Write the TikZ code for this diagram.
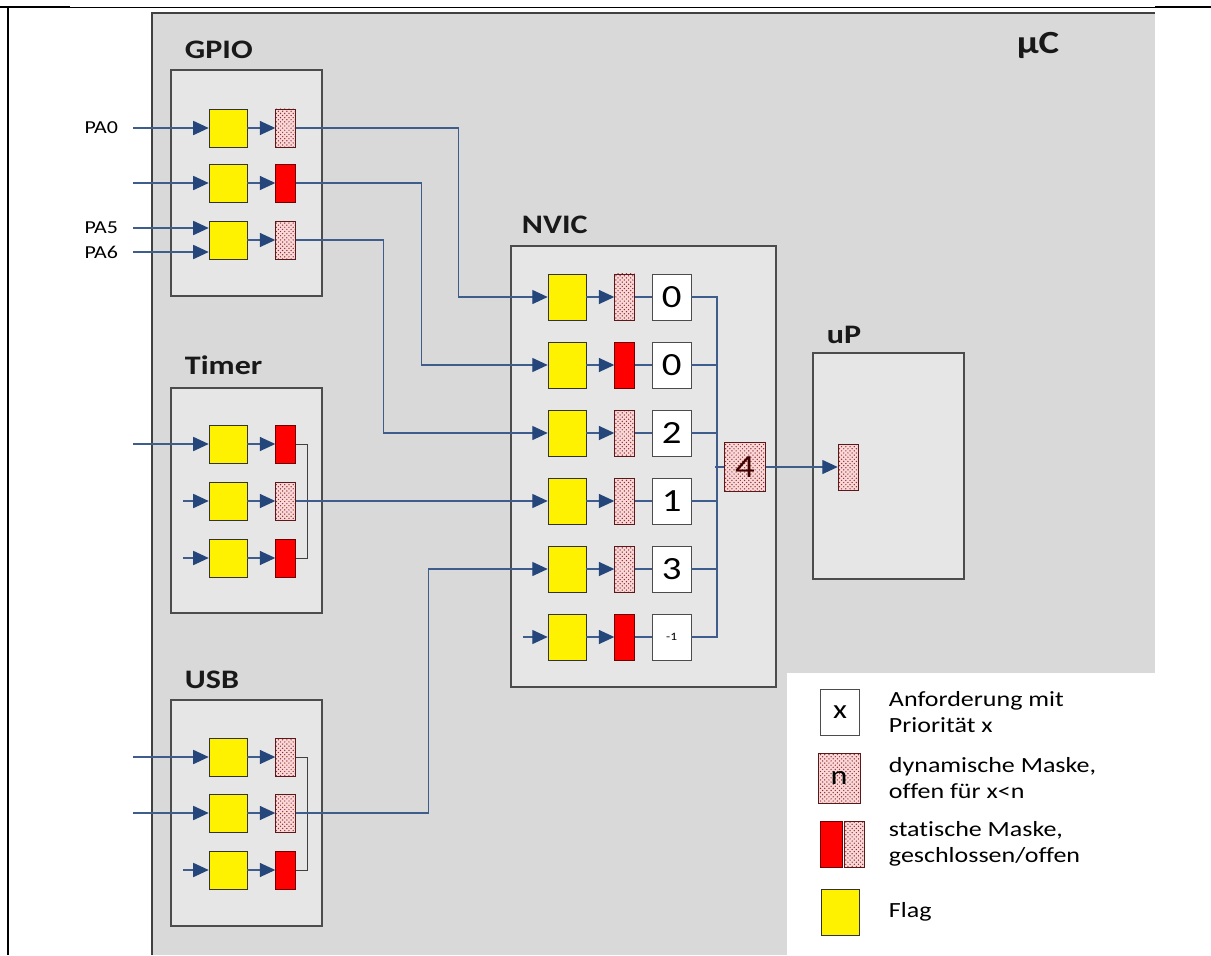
\documentclass[tikz,border=0pt]{standalone}
\usepackage{fontspec}
\setmainfont{Carlito}[FakeStretch=1.2, Ligatures=NoCommon]
\usetikzlibrary{arrows.meta, positioning, patterns}
\definecolor{linie}{RGB}{62,92,140}
\definecolor{pfeil}{RGB}{36,70,122}
\definecolor{ucgrau}{RGB}{217,217,217}
\definecolor{blockgrau}{RGB}{230,230,230}
\definecolor{maske}{RGB}{248,216,216}
\definecolor{punkte}{RGB}{150,40,40}

\begin{document}
\begin{tikzpicture}[x=0.025cm, y=-0.025cm, node distance=0.7cm,
    flag/.style={rectangle, draw=black!80, fill=yellow, minimum width=0.95cm,
      minimum height=0.95cm, inner sep=0pt},
    nflag/.style={flag, minimum height=1.15cm},
    dynm/.style={rectangle, draw=punkte!60!black, preaction={fill=maske},
      pattern=crosshatch dots, pattern color=punkte, minimum width=0.5cm,
      minimum height=0.95cm, inner sep=0pt},
    statm/.style={rectangle, draw=red!45!black, fill=red, minimum width=0.5cm,
      minimum height=0.95cm, inner sep=0pt},
    ndyn/.style={dynm, minimum height=1.15cm},
    nstat/.style={statm, minimum height=1.15cm},
    prio/.style={rectangle, draw=black!70, fill=white, minimum width=0.975cm,
      minimum height=1.15cm, inner sep=0pt, font=\fontsize{23}{25}\selectfont},
    block/.style={rectangle, draw=black!70, line width=1pt, fill=blockgrau,
      inner sep=0pt},
    titel/.style={font=\fontsize{19}{22}\selectfont\bfseries, anchor=west,
      text=black!90},
    pin/.style={font=\fontsize{13}{15}\selectfont, anchor=east},
    leg/.style={font=\fontsize{15.4}{18.5}\selectfont, anchor=west, align=left},
    flecha/.style={-{Triangle[length=11pt, width=10pt, color=pfeil]}, draw=linie,
      line width=0.9pt},
    leitung/.style={draw=linie, line width=0.9pt},
    band/.style={draw=black!75, line width=0.7pt}
  ]
  \useasboundingbox (0,0) rectangle (1211,955);

  % frame and controller
  \draw[line width=0.7pt] (0,7) -- (1211,7);
  \draw[line width=2pt] (0,7) -- (70,7) (1155,7) -- (1211,7);
  \draw[line width=1.5pt] (8,7) -- (8,955);
  \fill[ucgrau] (152,13) rectangle (1155,955);
  \draw[black!75, line width=1.5pt] (152,955) -- (152,13) -- (1155,13);
  \node[titel, font=\fontsize{23}{25}\selectfont\bfseries, anchor=center] (uc) at (1038,45) {µC};
  \fill[white] (787,673) rectangle (1155,955);

  % blocks
  \node[block, minimum width=3.775cm, minimum height=5.65cm] (gpio) at (246.5,183) {};
  \node[block, minimum width=3.775cm, minimum height=5.625cm] (timer) at (246.5,500.5) {};
  \node[block, minimum width=3.775cm, minimum height=5.65cm] (usb) at (246.5,813) {};
  \node[block, minimum width=6.625cm, minimum height=11.025cm] (nvic) at (643.5,466.5) {};
  \node[block, minimum width=3.775cm, minimum height=5.65cm] (up) at (888.5,466) {};
  \node[titel] (tgpio) at (180,50) {GPIO};
  \node[titel] (ttimer) at (180,365) {Timer};
  \node[titel] (tusb) at (180,680) {USB};
  \node[titel] (tnvic) at (517,225) {NVIC};
  \node[titel] (tup) at (822,335) {uP};

  % GPIO
  \node[flag] (gf1) at (228,128) {};  \node[dynm, right=of gf1] (gm1) {};
  \node[flag] (gf2) at (228,183) {};  \node[statm, right=of gf2] (gm2) {};
  \node[flag] (gf3) at (228,240) {};  \node[dynm, right=of gf3] (gm3) {};
  \coordinate (pa0) at (133,128);
  \coordinate (pa1) at (133,183);
  \coordinate (pa5) at (133,228);
  \coordinate (pa6) at (133,252);
  \node[pin, left=0.25cm of pa0] (lpa0) {PA0};
  \node[pin, left=0.25cm of pa5] (lpa5) {PA5};
  \node[pin, left=0.25cm of pa6] (lpa6) {PA6};

  % Timer
  \node[flag] (tf1) at (228,444) {};  \node[statm, right=of tf1] (tm1) {};
  \node[flag] (tf2) at (228,501) {};  \node[dynm, right=of tf2] (tm2) {};
  \node[flag] (tf3) at (228,558) {};  \node[statm, right=of tf3] (tm3) {};
  \coordinate (tin1) at (133,444);
  \coordinate (tin2) at (183,501);
  \coordinate (tin3) at (183,558);

  % USB
  \node[flag] (uf1) at (228,757) {};  \node[dynm, right=of uf1] (um1) {};
  \node[flag] (uf2) at (228,813) {};  \node[dynm, right=of uf2] (um2) {};
  \node[flag] (uf3) at (228,870) {};  \node[statm, right=of uf3] (um3) {};
  \coordinate (uin1) at (133,757);
  \coordinate (uin2) at (133,813);
  \coordinate (uin3) at (183,870);

  % NVIC
  \node[nflag] (nf1) at (567,297) {};  \node[ndyn, right=of nf1] (nm1) {};
  \node[prio, right=0.425cm of nm1] (np1) {0};
  \node[nflag] (nf2) at (567,365) {};  \node[nstat, right=of nf2] (nm2) {};
  \node[prio, right=0.425cm of nm2] (np2) {0};
  \node[nflag] (nf3) at (567,433) {};  \node[ndyn, right=of nf3] (nm3) {};
  \node[prio, right=0.425cm of nm3] (np3) {2};
  \node[nflag] (nf4) at (567,501) {};  \node[ndyn, right=of nf4] (nm4) {};
  \node[prio, right=0.425cm of nm4] (np4) {1};
  \node[nflag] (nf5) at (567,569) {};  \node[ndyn, right=of nf5] (nm5) {};
  \node[prio, right=0.425cm of nm5] (np5) {3};
  \node[nflag] (nf6) at (567,637) {};  \node[nstat, right=of nf6] (nm6) {};
  \node[prio, right=0.425cm of nm6, font=\fontsize{8}{9}\selectfont] (np6) {-1};
  \coordinate (nin6) at (523,637);
  \node[dynm, minimum width=1.025cm, minimum height=1.225cm,
    font=\fontsize{23}{25}\selectfont, text=red!25!black] (four) at (745,467) {4};
  \node[ndyn] (upm) at (848,467) {};

  % inputs
  \draw[flecha] (pa0) -- (gf1);
  \draw[flecha] (pa1) -- (gf2);
  \draw[flecha] (pa5) -- (pa5 -| gf3.west);
  \draw[flecha] (pa6) -- (pa6 -| gf3.west);
  \draw[flecha] (tin1) -- (tf1);
  \draw[flecha] (tin2) -- (tf2);
  \draw[flecha] (tin3) -- (tf3);
  \draw[flecha] (uin1) -- (uf1);
  \draw[flecha] (uin2) -- (uf2);
  \draw[flecha] (uin3) -- (uf3);
  \draw[flecha] (nin6) -- (nf6);

  % flag to mask
  \draw[flecha] (gf1) -- (gm1);
  \draw[flecha] (gf2) -- (gm2);
  \draw[flecha] (gf3) -- (gm3);
  \draw[flecha] (tf1) -- (tm1);
  \draw[flecha] (tf2) -- (tm2);
  \draw[flecha] (tf3) -- (tm3);
  \draw[flecha] (uf1) -- (um1);
  \draw[flecha] (uf2) -- (um2);
  \draw[flecha] (uf3) -- (um3);
  \draw[flecha] (nf1) -- (nm1);
  \draw[flecha] (nf2) -- (nm2);
  \draw[flecha] (nf3) -- (nm3);
  \draw[flecha] (nf4) -- (nm4);
  \draw[flecha] (nf5) -- (nm5);
  \draw[flecha] (nf6) -- (nm6);

  % ties inside Timer and USB
  \draw[band] (tm1.east) -- ++(12,0) |- (tm3.east);
  \draw[band] (um1.east) -- ++(12,0) |- (um3.east);

  % routes to NVIC
  \draw[flecha] (gm1.east) -- ++(163,0) |- (nf1.west);
  \draw[flecha] (gm2.east) -- ++(126,0) |- (nf2.west);
  \draw[flecha] (gm3.east) -- ++(88,0) |- (nf3.west);
  \draw[flecha] (tm2.east) -- (nf4.west);
  \draw[flecha] (um2.east) -- ++(133,0) |- (nf5.west);

  % priority bus
  \draw[leitung] (nm1) -- (np1);
  \draw[leitung] (nm2) -- (np2);
  \draw[leitung] (nm3) -- (np3);
  \draw[leitung] (nm4) -- (np4);
  \draw[leitung] (nm5) -- (np5);
  \draw[leitung] (nm6) -- (np6);
  \draw[leitung] (np1.east) -- ++(25.5,0) |- (np6.east);
  \draw[leitung] (np2.east) -- ++(25.5,0);
  \draw[leitung] (np3.east) -- ++(25.5,0);
  \draw[leitung] (np4.east) -- ++(25.5,0);
  \draw[leitung] (np5.east) -- ++(25.5,0);
  \draw[leitung] (four.west) -- ++(-9.5,0);
  \draw[flecha] (four) -- (upm);

  % legend
  \node[prio, font=\fontsize{19}{21}\selectfont] (lx) at (840,712) {x};
  \node[dynm, minimum width=1.05cm, minimum height=1.25cm,
    font=\fontsize{19}{21}\selectfont] (ln) at (839,778) {n};
  \node[nstat, minimum width=0.55cm] (lrot) at (831,844) {};
  \node[ndyn, right=1.5pt of lrot] (loffen) {};
  \node[nflag] (lflag) at (840,912) {};
  \node[leg] (tx) at (884,712) {Anforderung mit\\Priorität x};
  \node[leg] (tn) at (884,778) {dynamische Maske,\\offen für x<n};
  \node[leg] (ts) at (884,844) {statische Maske,\\geschlossen/offen};
  \node[leg] (tf) at (884,912) {Flag};
\end{tikzpicture}
\end{document}
